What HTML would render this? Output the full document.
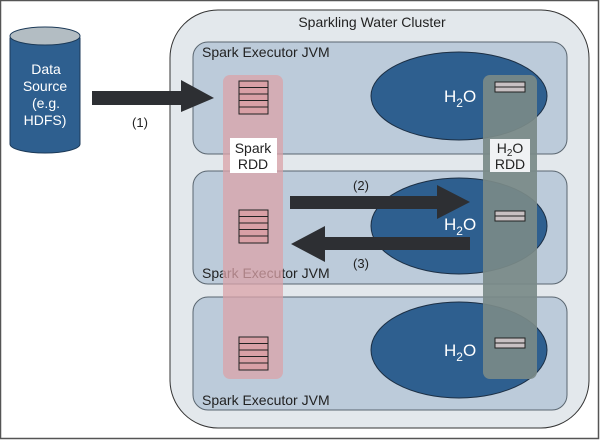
<!DOCTYPE html>
<html><head><style>body{margin:0;background:#fff}svg{display:block}</style></head><body>
<svg width="600" height="440" viewBox="0 0 600 440" xmlns="http://www.w3.org/2000/svg" font-family="Liberation Sans, sans-serif">
<rect x="0.5" y="0.5" width="598" height="438" fill="#fff" stroke="#555" stroke-width="1.5"/>
<!-- cylinder -->
<path d="M10,38 L10,144 A35,9 0 0 0 80,144 L80,38 Z" fill="#2e5f8f" stroke="#1c3a58"/>
<ellipse cx="45" cy="36" rx="35" ry="9" fill="#b3bdc3" stroke="#1c3a58"/>
<g fill="#fff" font-size="14" text-anchor="middle"><text x="46" y="74">Data</text><text x="45" y="91">Source</text><text x="46" y="108">(e.g.</text><text x="45" y="125">HDFS)</text></g>
<text x="140" y="127" font-size="13" text-anchor="middle" fill="#222">(1)</text>
<!-- cluster -->
<rect x="170" y="10" width="419" height="418" rx="48" fill="#e3e8ec" stroke="#333"/>
<text x="372" y="27" font-size="14" text-anchor="middle" fill="#222">Sparkling Water Cluster</text>
<!-- executors -->
<rect x="193" y="42" width="374" height="112" rx="15" fill="#bccbda" stroke="#5a6670"/>
<rect x="193" y="171" width="374" height="113" rx="15" fill="#bccbda" stroke="#5a6670"/>
<rect x="193" y="297" width="374" height="113" rx="15" fill="#bccbda" stroke="#5a6670"/>
<g font-size="14" fill="#222"><text x="202" y="57">Spark Executor JVM</text><text x="202" y="278">Spark Executor JVM</text><text x="202" y="405">Spark Executor JVM</text></g>
<!-- ellipses -->
<g fill="#2e5f8f" stroke="#1c2f44"><ellipse cx="459" cy="96" rx="88" ry="44"/><ellipse cx="459" cy="226" rx="88" ry="48"/><ellipse cx="459" cy="350" rx="88" ry="48"/></g>
<!-- columns -->
<rect x="223" y="75" width="60" height="304" rx="7" fill="#dba3a8" opacity="0.75"/>
<rect x="483" y="75" width="54" height="304" rx="7" fill="#7a8a88" opacity="0.92"/>
<rect x="230" y="138" width="47" height="35" fill="#fff"/>
<g font-size="14" fill="#222" text-anchor="middle"><text x="253" y="153">Spark</text><text x="253" y="169">RDD</text></g>
<rect x="490" y="139" width="40" height="33" fill="#f0f2f4"/>
<g font-size="14" fill="#222" text-anchor="middle"><text x="510" y="153">H<tspan font-size="10" dy="3">2</tspan><tspan dy="-3">O</tspan></text><text x="510" y="169">RDD</text></g>
<!-- H2O labels -->
<g font-size="17" fill="#fff"><text x="444" y="102">H<tspan font-size="12" dy="5">2</tspan><tspan dy="-5">O</tspan></text><text x="444" y="230">H<tspan font-size="12" dy="5">2</tspan><tspan dy="-5">O</tspan></text><text x="444" y="356">H<tspan font-size="12" dy="5">2</tspan><tspan dy="-5">O</tspan></text></g>
<!-- tables -->
<g fill="#d9a0a6" stroke="#222" stroke-width="1">
<rect x="239" y="81" width="29" height="33"/><path d="M239,87.5H268M239,94H268M239,100.5H268M239,107H268"/>
<rect x="239" y="210" width="29" height="33"/><path d="M239,216.5H268M239,223H268M239,229.5H268M239,236H268"/>
<rect x="239" y="337" width="29" height="33"/><path d="M239,343.5H268M239,350H268M239,356.5H268M239,363H268"/>
</g>
<g fill="#c8c0c2" stroke="#222"><rect x="495" y="82" width="30" height="10"/><path d="M495,87H525"/><rect x="495" y="211" width="30" height="10"/><path d="M495,216H525"/><rect x="495" y="338" width="30" height="10"/><path d="M495,343H525"/></g>
<!-- arrows -->
<path d="M92,91 L181,91 L181,80 L214,98 L181,112 L181,105 L92,105 Z" fill="#2d2f33"/>
<path d="M290,196 L437,196 L437,185 L470,202 L437,219 L437,209 L290,209 Z" fill="#2d2f33"/>
<path d="M470,237 L325,237 L325,226 L291,244 L325,262 L325,250 L470,250 Z" fill="#2d2f33"/>
<g font-size="13" fill="#222" text-anchor="middle"><text x="361" y="190">(2)</text><text x="361" y="268">(3)</text></g>
</svg>
</body></html>
